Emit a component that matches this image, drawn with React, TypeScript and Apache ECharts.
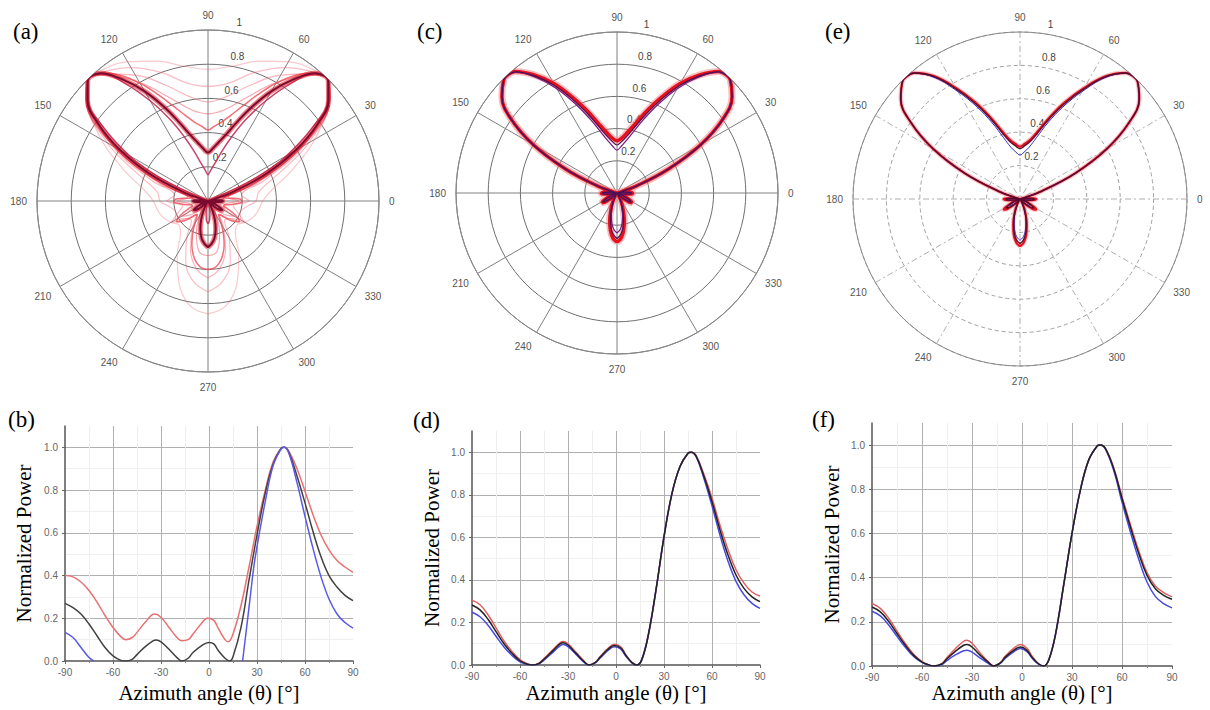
import React, { useEffect, useRef } from 'react';
import * as echarts from 'echarts';

type Pt = [number, number | null];

const FONT_SERIF = "'Times New Roman', 'Liberation Serif', 'DejaVu Serif', serif";
const FONT_SANS = "Arial, 'Liberation Sans', sans-serif";

// ---------- tick labels ----------
const radiusTicks = [0.2, 0.4, 0.6, 0.8, 1];
const panelLabels = ['(a)', '(b)', '(c)', '(d)', '(e)', '(f)'];
const xAxisTitle = 'Azimuth angle (θ) [°]';
const yAxisTitle = 'Normalized Power';

// ---------- (b) ----------
const bRed: Pt[] = [[-90,0.40],[-85,0.394],[-80,0.37],[-75,0.33],[-70,0.276],[-65,0.213],[-60,0.157],[-55,0.113],[-52,0.10],[-48,0.11],[-45,0.134],[-40,0.18],[-34,0.22],[-30,0.205],[-25,0.157],[-20,0.11],[-17,0.095],[-13,0.10],[-10,0.126],[-5,0.173],[-1,0.20],[3,0.19],[6,0.15],[10,0.10],[12,0.09],[15,0.126],[20,0.26],[25,0.44],[30,0.63],[35,0.795],[40,0.93],[45,0.995],[47,1.0],[50,0.98],[55,0.90],[60,0.795],[65,0.685],[70,0.59],[75,0.52],[80,0.47],[85,0.44],[90,0.415]];
const bBlack: Pt[] = [[-90,0.27],[-85,0.25],[-80,0.22],[-75,0.173],[-70,0.118],[-65,0.063],[-60,0.024],[-55,0.003],[-52,0],[-48,0.008],[-45,0.03],[-40,0.066],[-35,0.094],[-33,0.098],[-30,0.09],[-25,0.055],[-20,0.016],[-17,0],[-13,0.013],[-10,0.04],[-5,0.07],[0,0.087],[3,0.08],[6,0.047],[10,0.013],[13,0],[15,0.02],[20,0.157],[25,0.378],[30,0.59],[35,0.78],[40,0.92],[45,0.995],[47,1.0],[50,0.976],[55,0.866],[60,0.74],[65,0.606],[70,0.488],[75,0.40],[80,0.346],[85,0.307],[90,0.283]];
const bBlue: Pt[] = [[-90,0.134],[-85,0.11],[-80,0.063],[-75,0.016],[-72,0],[0,null],[21,0],[25,0.25],[28,0.44],[30,0.535],[35,0.74],[40,0.913],[45,0.992],[47,1.0],[50,0.97],[55,0.835],[60,0.677],[65,0.527],[70,0.394],[75,0.29],[80,0.22],[85,0.18],[90,0.154]];

// faint curves of polar (a)
const aFaint1: Pt[] = [[-90,0.66],[-80,0.62],[-70,0.5],[-60,0.36],[-50,0.25],[-40,0.22],[-30,0.25],[-20,0.28],[-10,0.3],[0,0.32],[10,0.38],[20,0.52],[30,0.72],[40,0.92],[45,1.0],[50,0.99],[60,0.94],[70,0.87],[80,0.8],[90,0.77]];
const aFaint2: Pt[] = [[-90,0.53],[-80,0.48],[-70,0.38],[-60,0.25],[-50,0.15],[-40,0.16],[-30,0.22],[-20,0.2],[-10,0.22],[0,0.28],[10,0.3],[20,0.42],[30,0.68],[40,0.93],[45,1.0],[50,0.98],[60,0.9],[70,0.8],[80,0.7],[90,0.67]];
const aFaint3: Pt[] = [[-90,0.45],[-80,0.4],[-70,0.3],[-60,0.18],[-50,0.1],[-40,0.16],[-30,0.25],[-20,0.18],[-10,0.15],[0,0.24],[10,0.2],[20,0.35],[30,0.65],[40,0.93],[45,1.0],[50,0.97],[60,0.85],[70,0.72],[80,0.62],[90,0.58]];
const aFaint4: Pt[] = [[-90,0.32],[-80,0.3],[-70,0.2],[-60,0.1],[-50,0.05],[-40,0.12],[-30,0.18],[-20,0.1],[-10,0.1],[0,0.18],[10,0.12],[20,0.3],[30,0.62],[40,0.93],[45,1.0],[50,0.96],[60,0.8],[70,0.64],[80,0.54],[90,0.51]];

// ---------- (d) ----------
const dTheta = [-90,-85,-80,-75,-70,-65,-60,-55,-52,-48,-45,-40,-35,-33,-30,-25,-20,-17,-13,-10,-5,-1,3,6,10,13,16,20,25,30,35,40,45,47,50,55,60,65,70,75,80,85,90];
const dRed = [0.305,0.283,0.236,0.175,0.113,0.064,0.025,0.005,0,0.01,0.03,0.068,0.104,0.11,0.1,0.06,0.019,0,0.012,0.039,0.078,0.097,0.085,0.05,0.012,0,0.022,0.13,0.35,0.6,0.805,0.933,0.995,1,0.985,0.895,0.785,0.657,0.543,0.448,0.385,0.343,0.324];
const dBlack = [0.282,0.259,0.215,0.157,0.10,0.055,0.02,0.003,0,0.008,0.027,0.063,0.099,0.105,0.094,0.055,0.016,0,0.011,0.036,0.074,0.092,0.08,0.047,0.011,0,0.023,0.133,0.353,0.603,0.807,0.933,0.995,1,0.983,0.886,0.768,0.635,0.517,0.423,0.36,0.32,0.298];
const dBlue = [0.248,0.227,0.187,0.135,0.085,0.045,0.015,0.002,0,0.006,0.023,0.056,0.09,0.096,0.086,0.05,0.013,0,0.01,0.032,0.068,0.086,0.075,0.043,0.01,0,0.024,0.136,0.356,0.605,0.808,0.933,0.995,1,0.98,0.876,0.748,0.61,0.488,0.393,0.33,0.29,0.266];

// ---------- (f) ----------
const fTheta = [-90,-85,-80,-75,-70,-65,-60,-55,-53,-48,-45,-40,-35,-33,-30,-25,-20,-17,-13,-10,-5,-1,3,6,10,13,16,20,25,30,35,40,45,47,50,55,60,65,70,75,80,85,90];
const fRed = [0.283,0.261,0.216,0.158,0.102,0.053,0.02,0.003,0,0.012,0.039,0.078,0.112,0.116,0.103,0.058,0.018,0,0.016,0.045,0.08,0.097,0.08,0.045,0.01,0,0.025,0.137,0.364,0.6,0.797,0.932,0.995,1,0.986,0.898,0.768,0.642,0.523,0.423,0.362,0.332,0.313];
const fBlack = [0.267,0.245,0.202,0.147,0.094,0.048,0.018,0.003,0,0.01,0.033,0.066,0.094,0.097,0.086,0.048,0.015,0,0.014,0.04,0.071,0.086,0.071,0.04,0.009,0,0.026,0.139,0.366,0.6,0.796,0.932,0.995,1,0.985,0.894,0.758,0.63,0.51,0.41,0.35,0.32,0.302];
const fBlue = [0.248,0.227,0.186,0.134,0.085,0.043,0.016,0.002,0,0.007,0.025,0.05,0.069,0.071,0.063,0.036,0.011,0,0.012,0.035,0.064,0.079,0.065,0.036,0.008,0,0.027,0.141,0.368,0.6,0.795,0.932,0.995,1,0.983,0.886,0.742,0.608,0.484,0.38,0.315,0.282,0.263];

const zip = (t: number[], v: number[]): Pt[] => t.map((x, i) => [x, v[i]]);

// ---------- layout ----------
const polarLayout = [
  { cx: 208, cy: 201, R: 171, dashed: false },
  { cx: 617, cy: 193, R: 161, dashed: false },
  { cx: 1020, cy: 199, R: 167, dashed: true },
];
const gridLayout = [
  { left: 65, top: 426, width: 288, height: 235, yGap: 31, xGap: 21 },
  { left: 472, top: 431, width: 288, height: 234, yGap: 30, xGap: 17 },
  { left: 872, top: 423, width: 300, height: 243, yGap: 30, xGap: 16 },
];

// map pattern P(theta) to polar loop r(phi), phi with theta = asin(sin(phi))
function toPolar(pts: Pt[]) {
  const out: any[] = [];
  for (const [t, v] of pts) out.push([v == null ? '-' : v, t < 0 ? 360 + t : t]);
  for (let i = pts.length - 1; i >= 0; i--) {
    const [t, v] = pts[i];
    out.push([v == null ? '-' : v, 180 - t]);
  }
  return out;
}

function buildOption() {
  const polar: any[] = [];
  const angleAxis: any[] = [];
  const radiusAxis: any[] = [];
  const graphic: any[] = [];
  polarLayout.forEach((p, i) => {
    polar.push({ center: [p.cx, p.cy], radius: p.R });
    angleAxis.push({
      polarIndex: i, type: 'value', min: 0, max: 360, interval: 30, startAngle: 0, clockwise: false,
      axisLine: { show: true, lineStyle: { color: '#8a8a8a', width: 1 } },
      axisTick: { show: false },
      axisLabel: { show: true, margin: 10, color: '#555', fontSize: 10, fontFamily: FONT_SANS, formatter: (v: number) => (v >= 360 ? '' : String(v)) },
      splitLine: { show: true, lineStyle: { color: p.dashed ? '#b0b0b0' : '#808080', width: 1, type: p.dashed ? [6, 3, 2, 3] : 'solid' } },
    });
    radiusAxis.push({
      polarIndex: i, type: 'value', min: 0, max: 1, interval: 0.2,
      axisLine: { show: false }, axisTick: { show: false }, axisLabel: { show: false },
      splitLine: { show: true, lineStyle: { color: p.dashed ? '#a0a0a0' : '#707070', width: 1, type: p.dashed ? [4, 3] : 'solid' } },
    });
    const a = (80 * Math.PI) / 180;
    radiusTicks.forEach((v) => {
      const rr = v * p.R + 10;
      graphic.push({
        type: 'text', x: p.cx + rr * Math.cos(a) - 3, y: p.cy - rr * Math.sin(a),
        style: { text: v === 1 ? '1' : v.toFixed(1), fill: '#444', fontSize: 10, fontFamily: FONT_SANS, verticalAlign: 'middle', align: 'left' },
      });
    });
  });

  const grid: any[] = [];
  const xAxis: any[] = [];
  const yAxis: any[] = [];
  gridLayout.forEach((g, i) => {
    grid.push({ left: g.left, top: g.top, width: g.width, height: g.height, containLabel: false });
    xAxis.push({
      gridIndex: i, type: 'value', min: -90, max: 90, interval: 30,
      name: xAxisTitle, nameLocation: 'middle', nameGap: g.xGap,
      nameTextStyle: { fontFamily: FONT_SERIF, fontSize: 21, color: '#000' },
      axisLine: { show: true, onZero: false, lineStyle: { color: '#555', width: 1.5 } },
      axisTick: { show: true, inside: false, length: 3, lineStyle: { color: '#666' } },
      minorTick: { show: true, splitNumber: 2, length: 2, lineStyle: { color: '#888' } },
      axisLabel: { color: '#666', fontSize: 10, fontFamily: FONT_SANS, margin: 6 },
      splitLine: { show: true, showMinLine: false, showMaxLine: false, lineStyle: { color: '#b0b0b0', width: 1 } },
      minorSplitLine: { show: true, lineStyle: { color: '#efefef', width: 1 } },
    });
    yAxis.push({
      gridIndex: i, type: 'value', min: 0, max: 1.1, interval: 0.2,
      name: yAxisTitle, nameLocation: 'middle', nameGap: g.yGap, nameRotate: 90,
      nameTextStyle: { fontFamily: FONT_SERIF, fontSize: 21, color: '#000' },
      axisLine: { show: true, onZero: false, lineStyle: { color: '#555', width: 1.5 } },
      axisTick: { show: true, length: 3, lineStyle: { color: '#666' } },
      minorTick: { show: false, splitNumber: 2 },
      axisLabel: { color: '#666', fontSize: 10, fontFamily: FONT_SANS, margin: 7, showMaxLabel: false, formatter: (v: number) => v.toFixed(1) },
      splitLine: { show: true, showMinLine: false, showMaxLine: false, lineStyle: { color: '#b0b0b0', width: 1 } },
      minorSplitLine: { show: true, lineStyle: { color: '#f0f0f0', width: 1 } },
    });
  });

  const series: any[] = [];
  const polarLine = (idx: number, pts: Pt[], color: string, width: number, opacity = 1, z = 2) =>
    series.push({
      type: 'line', coordinateSystem: 'polar', polarIndex: idx, data: toPolar(pts), showSymbol: false, smooth: 0.4,
      lineStyle: { color, width, opacity }, itemStyle: { color }, z, silent: true,
    });
  const cartLine = (idx: number, pts: Pt[], color: string, width: number) =>
    series.push({
      type: 'line', xAxisIndex: idx, yAxisIndex: idx, data: pts.map(([t, v]) => [t, v == null ? '-' : v]),
      showSymbol: false, smooth: 0.4, lineStyle: { color, width }, itemStyle: { color }, silent: true,
    });

  // (a)
  polarLine(0, aFaint1, '#f06070', 1.2, 0.35, 1);
  polarLine(0, aFaint2, '#f06070', 1.2, 0.4, 1);
  polarLine(0, aFaint3, '#f06070', 1.2, 0.45, 1);
  polarLine(0, aFaint4, '#f05060', 1.2, 0.5, 1);
  polarLine(0, bRed, '#f04a55', 1.5, 0.8, 2);
  polarLine(0, bBlue, '#c0305a', 1.5, 0.9, 2);
  polarLine(0, bBlack, '#e0101e', 5, 0.55, 3);
  polarLine(0, bBlack, '#7a0a30', 2, 1, 4);
  // (c)
  polarLine(1, zip(dTheta, dRed), '#f07078', 7, 0.45, 2);
  polarLine(1, zip(dTheta, dRed), '#e8101c', 3.5, 1, 3);
  polarLine(1, zip(dTheta, dBlue), '#7a1a80', 1.2, 1, 4);
  polarLine(1, zip(dTheta, dBlack), '#4a1050', 1.2, 1, 4);
  // (e)
  polarLine(2, zip(fTheta, fRed), '#f07078', 4.5, 0.4, 2);
  polarLine(2, zip(fTheta, fRed), '#e01020', 2.2, 1, 3);
  polarLine(2, zip(fTheta, fBlue), '#3030c0', 1, 1, 4);
  polarLine(2, zip(fTheta, fBlack), '#5a0a28', 1.3, 1, 4);

  // (b)
  cartLine(0, bRed, '#e87070', 1.5);
  cartLine(0, bBlack, '#404040', 1.5);
  cartLine(0, bBlue, '#5a5ae6', 1.5);
  // (d)
  cartLine(1, zip(dTheta, dRed), '#e06060', 1.5);
  cartLine(1, zip(dTheta, dBlue), '#4a4ae0', 1.5);
  cartLine(1, zip(dTheta, dBlack), '#222', 1.5);
  // (f)
  cartLine(2, zip(fTheta, fRed), '#e06060', 1.5);
  cartLine(2, zip(fTheta, fBlue), '#4a4ae0', 1.5);
  cartLine(2, zip(fTheta, fBlack), '#222', 1.5);

  const labelPos = [
    { left: 13, top: 20 }, { left: 8, top: 408 },
    { left: 417, top: 20 }, { left: 413, top: 409 },
    { left: 825, top: 20 }, { left: 812, top: 408 },
  ];
  const title = panelLabels.map((t, i) => ({
    text: t, left: labelPos[i].left, top: labelPos[i].top, padding: 0,
    textStyle: { fontFamily: FONT_SERIF, fontSize: 23, fontWeight: 'normal', color: '#000' },
  }));

  return {
    animation: false,
    backgroundColor: '#ffffff',
    title, polar, angleAxis, radiusAxis, grid, xAxis, yAxis, series, graphic,
  };
}

export default function App() {
  const ref = useRef<HTMLDivElement>(null);
  useEffect(() => {
    if (!ref.current) return;
    const chart = echarts.init(ref.current, undefined, { renderer: 'svg' });
    chart.setOption(buildOption() as any);
    return () => chart.dispose();
  }, []);
  return <div ref={ref} style={{ position: 'fixed', left: 0, top: 0, width: 1210, height: 710, background: '#fff' }} />;
}
